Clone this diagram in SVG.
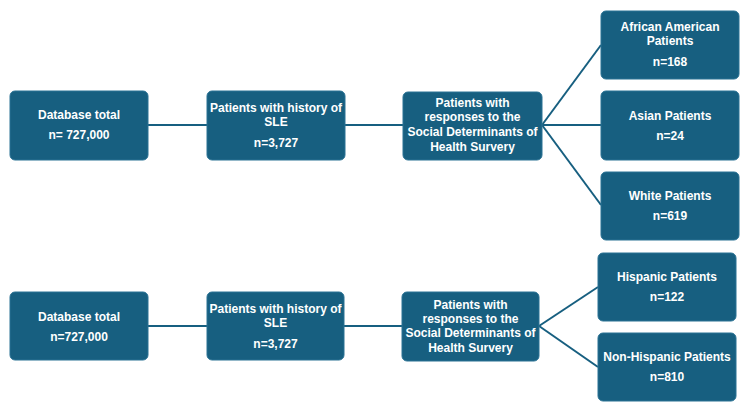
<svg xmlns="http://www.w3.org/2000/svg" width="750" height="408" viewBox="0 0 750 408">
<style>
.box{fill:#175f80;stroke:#2a7294;stroke-width:1}
.t{fill:#ffffff;font-family:"Liberation Sans",Arial,sans-serif;font-weight:bold;font-size:12px;text-anchor:middle}
.c{stroke:#175f80;stroke-width:2;fill:none}
</style>
<rect width="750" height="408" fill="#ffffff"/>
<g id="connectors">
<line class="c" x1="148" y1="125" x2="207" y2="125"/>
<line class="c" x1="345" y1="125" x2="403" y2="125"/>
<line class="c" x1="542" y1="125" x2="601" y2="45"/>
<line class="c" x1="542" y1="125" x2="601" y2="125"/>
<line class="c" x1="542" y1="125" x2="601" y2="205"/>
<line class="c" x1="148" y1="326" x2="207" y2="326"/>
<line class="c" x1="344" y1="326" x2="402" y2="326"/>
<line class="c" x1="539" y1="326" x2="598" y2="287"/>
<line class="c" x1="539" y1="326" x2="598" y2="367"/>
</g>
<g id="db1"><rect class="box" x="10" y="91" width="138" height="69" rx="5"/>
<text class="t" x="79" y="119">Database total</text><text class="t" x="79" y="139">n= 727,000</text></g>
<g id="sle1"><rect class="box" x="207" y="91" width="138" height="69" rx="5"/>
<text class="t" x="276" y="112">Patients with history of</text><text class="t" x="276" y="126">SLE</text><text class="t" x="276" y="147">n=3,727</text></g>
<g id="sdoh1"><rect class="box" x="403" y="92" width="139" height="68" rx="5"/>
<text class="t" x="472.5" y="107">Patients with</text><text class="t" x="472.5" y="121">responses to the</text><text class="t" x="472.5" y="136">Social Determinants of</text><text class="t" x="472.5" y="151">Health Survery</text></g>
<g id="aa"><rect class="box" x="601" y="11" width="138" height="68" rx="5"/>
<text class="t" x="670" y="31">African American</text><text class="t" x="670" y="45">Patients</text><text class="t" x="670" y="66">n=168</text></g>
<g id="asian"><rect class="box" x="601" y="91" width="138" height="69" rx="5"/>
<text class="t" x="670" y="120">Asian Patients</text><text class="t" x="670" y="140">n=24</text></g>
<g id="white"><rect class="box" x="601" y="172" width="138" height="68" rx="5"/>
<text class="t" x="670" y="200">White Patients</text><text class="t" x="670" y="220">n=619</text></g>
<g id="db2"><rect class="box" x="10" y="292" width="138" height="68" rx="5"/>
<text class="t" x="79" y="321">Database total</text><text class="t" x="79" y="341">n=727,000</text></g>
<g id="sle2"><rect class="box" x="207" y="292" width="137" height="68" rx="5"/>
<text class="t" x="275.5" y="313">Patients with history of</text><text class="t" x="275.5" y="327">SLE</text><text class="t" x="275.5" y="348">n=3,727</text></g>
<g id="sdoh2"><rect class="box" x="402" y="292" width="137" height="69" rx="5"/>
<text class="t" x="470.5" y="309">Patients with</text><text class="t" x="470.5" y="323">responses to the</text><text class="t" x="470.5" y="337">Social Determinants of</text><text class="t" x="470.5" y="352">Health Survery</text></g>
<g id="hisp"><rect class="box" x="598" y="253" width="138" height="68" rx="5"/>
<text class="t" x="667" y="281">Hispanic Patients</text><text class="t" x="667" y="301">n=122</text></g>
<g id="nonhisp"><rect class="box" x="598" y="333" width="138" height="68" rx="5"/>
<text class="t" x="667" y="361">Non-Hispanic Patients</text><text class="t" x="667" y="381">n=810</text></g>
</svg>
